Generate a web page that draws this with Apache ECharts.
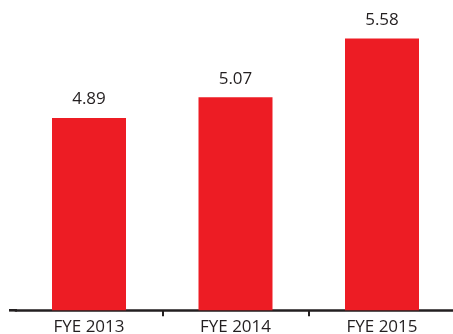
<!DOCTYPE html>
<html><head><meta charset="utf-8">
<script src="https://cdn.jsdelivr.net/npm/echarts@6/dist/echarts.min.js"></script>
<style>html,body{margin:0;padding:0;background:#fff}#c{width:453px;height:334px}</style>
</head><body><div id="c"></div>
<script>
const categories = ['FYE 2013', 'FYE 2014', 'FYE 2015'];
const values = [4.89, 5.07, 5.58];
const boundaryTicks = [1, 2];

const chart = echarts.init(document.getElementById('c'), null, {renderer: 'canvas'});
chart.setOption({
  animation: false,
  backgroundColor: '#ffffff',
  grid: {left: 15.75, width: 439.5, top: 0, bottom: 23.7, containLabel: false, outerBoundsMode: 'none'},
  xAxis: [{
    type: 'category',
    data: categories,
    boundaryGap: true,
    axisLine: {show: false},
    axisTick: {show: false},
    axisLabel: {color: '#231F20', fontFamily: 'Open Sans', fontSize: 17, margin: 8}
  }, {
    type: 'value', position: 'bottom', min: 0, max: categories.length,
    axisLine: {show: true, lineStyle: {color: '#231F20', width: 2.6}},
    axisTick: {show: true, length: 6, customValues: boundaryTicks, lineStyle: {color: '#231F20', width: 2}},
    axisLabel: {show: false},
    splitLine: {show: false}
  }],
  yAxis: {
    type: 'value', min: 3.2225, max: 5.9137, show: false,
    splitLine: {show: false}
  },
  graphic: [
    {type: 'line', shape: {x1: 9, y1: 310.3, x2: 17, y2: 310.3},
     style: {stroke: '#231F20', lineWidth: 2.6}, z: 100}
  ],
  series: [{
    type: 'bar',
    xAxisIndex: 0,
    data: values,
    barWidth: 74,
    itemStyle: {color: '#ED1C24'},
    label: {
      show: true, position: 'top', distance: 10,
      color: '#231F20', fontFamily: 'Open Sans', fontSize: 17,
      formatter: function (p) { return p.value.toFixed(2); }
    }
  }]
});
</script></body></html>
